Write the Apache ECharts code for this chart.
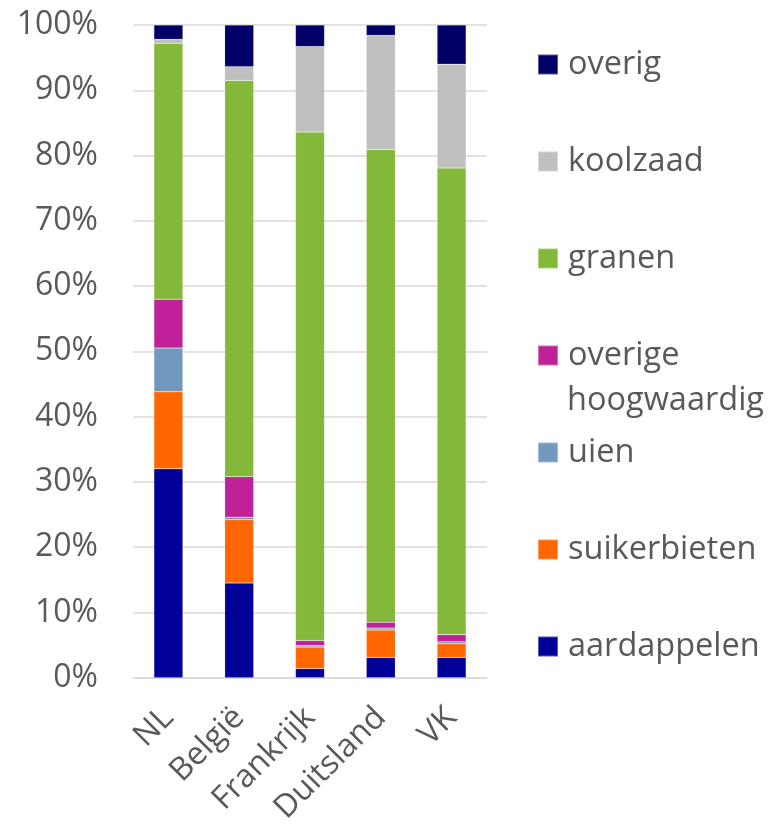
<!DOCTYPE html>
<html>
<head>
<meta charset="utf-8">
<script src="https://cdn.jsdelivr.net/npm/echarts@6/dist/echarts.min.js"></script>
<style>html,body{margin:0;padding:0;background:#fff}#c{width:773px;height:827px}</style>
</head>
<body>
<div id="c"></div>
<script>
const categories = ['NL', 'België', 'Frankrijk', 'Duitsland', 'VK'];
const aardappelen = [32.0, 14.5, 1.4, 3.1, 3.1];
const suikerbieten = [11.8, 9.7, 3.3, 4.2, 2.1];
const uien = [6.7, 0.4, 0.2, 0.3, 0.3];
const overigeHoogwaardig = [7.5, 6.2, 0.8, 0.9, 1.1];
const granen = [39.2, 60.7, 77.9, 72.4, 71.5];
const koolzaad = [0.6, 2.1, 13.1, 17.5, 15.9];
const overig = [2.2, 6.4, 3.3, 1.6, 6.0];
const yTicks = [0, 10, 20, 30, 40, 50, 60, 70, 80, 90, 100];

const FONT = '"Open Sans", sans-serif';
const TXT = '#595959';

const seriesDefs = [
  ['aardappelen', aardappelen, '#000099'],
  ['suikerbieten', suikerbieten, '#FF6600'],
  ['uien', uien, '#7398BD'],
  ['overige hoogwaardig', overigeHoogwaardig, '#BF2298'],
  ['granen', granen, '#84B83B'],
  ['koolzaad', koolzaad, '#BFBFBF'],
  ['overig', overig, '#000066']
];

const chart = echarts.init(document.getElementById('c'));
chart.setOption({
  animation: false,
  backgroundColor: '#fff',
  textStyle: { fontFamily: FONT },
  grid: { left: 133, right: 286, top: 25, bottom: 148, containLabel: false },
  legend: {
    orient: 'vertical',
    left: 537,
    top: 48,
    padding: 0,
    itemWidth: 20,
    itemHeight: 20,
    itemGap: 64,
    icon: 'rect',
    selectedMode: false,
    data: ['overig', 'koolzaad', 'granen', 'overige hoogwaardig', 'uien', 'suikerbieten', 'aardappelen'],
    formatter: n => n === 'overige hoogwaardig' ? 'overige' : n,
    textStyle: { color: TXT, fontSize: 32.5, fontFamily: FONT, lineHeight: 20, padding: [0, 0, 0, 5] }
  },
  graphic: [{
    type: 'text', x: 567, y: 401,
    style: { text: 'hoogwaardig', fill: TXT, font: '32.5px "Open Sans", sans-serif', verticalAlign: 'middle' }
  }],
  xAxis: {
    type: 'category',
    data: categories,
    axisLine: { show: true, lineStyle: { color: '#D9D9D9', width: 1.5 } },
    axisTick: { show: false },
    axisLabel: { interval: 0, rotate: 45, color: TXT, fontSize: 32, fontFamily: FONT, margin: 35 }
  },
  yAxis: {
    type: 'value',
    min: yTicks[0],
    max: yTicks[yTicks.length - 1],
    interval: yTicks[1] - yTicks[0],
    axisLine: { show: false },
    axisTick: { show: false },
    splitLine: { lineStyle: { color: '#D9D9D9', width: 1.5 } },
    axisLabel: { formatter: '{value}%', color: TXT, fontSize: 32, fontFamily: FONT, margin: 35 }
  },
  series: seriesDefs.map(([name, data, color]) => ({
    name, type: 'bar', stack: 'total', data, barWidth: 29,
    itemStyle: { color, borderColor: 'rgba(255,255,255,0.35)', borderWidth: 0.5 }
  }))
});
</script>
</body>
</html>
